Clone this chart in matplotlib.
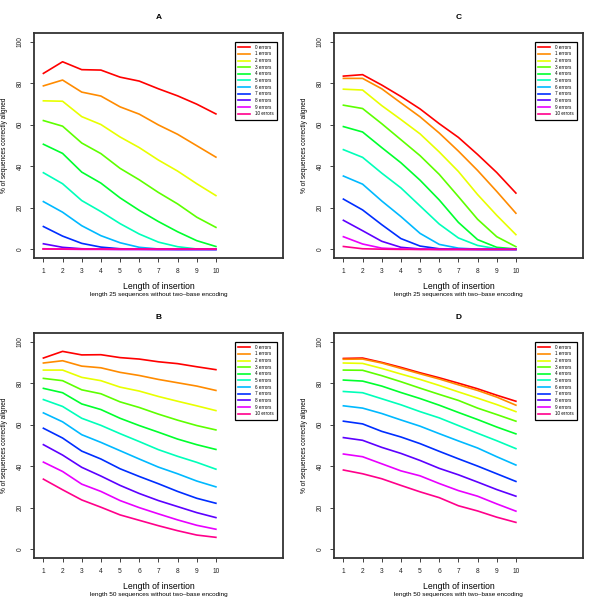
import colorsys
import matplotlib
matplotlib.use("Agg")
import matplotlib.pyplot as plt

plt.rcParams['font.family'] = ['Liberation Sans', 'DejaVu Sans']

insert_len = [1, 2, 3, 4, 5, 6, 7, 8, 9, 10]
error_labels = ['%d errors' % i for i in range(11)]

# panel A: length 25, no two-base encoding
a_vals = [
    [84.7, 90.3, 86.5, 86.3, 82.9, 81.0, 77.3, 73.9, 69.9, 65.2],
    [78.7, 81.5, 75.7, 73.8, 68.6, 65.1, 59.9, 55.4, 49.9, 44.4],
    [71.5, 71.3, 63.9, 60.1, 54.1, 49.0, 43.0, 37.7, 31.6, 25.9],
    [62.0, 59.3, 51.2, 46.1, 39.0, 33.5, 27.4, 21.9, 15.5, 10.6],
    [50.6, 46.2, 37.2, 31.9, 24.8, 18.8, 13.4, 8.5, 4.2, 1.4],
    [36.9, 31.6, 23.5, 18.2, 12.4, 7.4, 3.5, 1.3, 0.2, 0.0],
    [23.0, 17.9, 11.4, 6.6, 3.2, 1.0, 0.2, 0.0, 0.0, 0.0],
    [11.0, 6.4, 2.9, 1.1, 0.3, 0.1, 0.0, 0.0, 0.0, 0.0],
    [2.7, 1.0, 0.3, 0.1, 0.0, 0.0, 0.0, 0.0, 0.0, 0.0],
    [0.3, 0.1, 0.0, 0.0, 0.0, 0.0, 0.0, 0.0, 0.0, 0.0],
    [0.0, 0.0, 0.0, 0.0, 0.0, 0.0, 0.0, 0.0, 0.0, 0.0],
]

# panel B: length 50, no two-base encoding
b_vals = [
    [92.1, 95.3, 93.6, 93.7, 92.3, 91.6, 90.3, 89.4, 87.9, 86.5],
    [89.7, 90.8, 88.2, 87.4, 85.2, 83.7, 81.8, 80.2, 78.6, 76.5],
    [86.3, 86.3, 82.8, 81.2, 78.1, 76.2, 73.6, 71.3, 69.1, 66.8],
    [82.3, 81.2, 76.8, 74.9, 71.0, 68.3, 65.1, 62.2, 59.6, 57.5],
    [77.5, 75.4, 70.0, 67.3, 63.1, 59.6, 56.4, 53.1, 50.4, 48.1],
    [72.1, 68.8, 63.1, 59.7, 55.7, 51.9, 48.0, 44.8, 41.9, 38.6],
    [65.7, 61.4, 55.2, 51.5, 47.5, 43.5, 39.6, 36.4, 32.9, 30.1],
    [58.3, 53.6, 47.3, 43.5, 38.8, 35.1, 31.6, 27.9, 24.6, 22.2],
    [50.4, 45.4, 39.5, 35.3, 30.8, 26.9, 23.5, 20.6, 17.7, 15.3],
    [42.0, 37.5, 31.4, 27.9, 23.5, 20.1, 17.1, 14.2, 11.6, 9.7],
    [33.8, 28.7, 23.8, 20.3, 16.6, 14.0, 11.4, 9.0, 6.9, 5.8],
]

# panel C: length 25, with two-base encoding
c_vals = [
    [83.4, 84.1, 79.1, 73.6, 67.6, 60.5, 53.9, 45.7, 37.0, 27.1],
    [82.3, 82.3, 77.3, 70.5, 63.8, 56.0, 47.3, 38.0, 27.9, 17.4],
    [77.1, 76.7, 69.2, 62.5, 55.6, 46.9, 37.5, 26.4, 16.4, 7.1],
    [69.4, 67.8, 60.5, 52.8, 45.1, 36.1, 25.4, 14.5, 6.1, 1.3],
    [59.1, 56.5, 49.0, 41.7, 33.3, 23.8, 13.0, 4.7, 1.0, 0.2],
    [48.0, 44.3, 36.7, 29.6, 20.9, 12.2, 5.5, 1.9, 0.3, 0.0],
    [35.3, 31.4, 23.3, 15.8, 7.7, 2.4, 0.6, 0.1, 0.0, 0.0],
    [24.2, 19.0, 11.9, 5.2, 1.6, 0.3, 0.1, 0.0, 0.0, 0.0],
    [14.0, 9.0, 3.9, 1.0, 0.2, 0.0, 0.0, 0.0, 0.0, 0.0],
    [6.1, 2.6, 0.6, 0.2, 0.0, 0.0, 0.0, 0.0, 0.0, 0.0],
    [1.4, 0.3, 0.1, 0.0, 0.0, 0.0, 0.0, 0.0, 0.0, 0.0],
]

# panel D: length 50, with two-base encoding
d_vals = [
    [91.9, 92.1, 90.0, 87.6, 85.0, 82.6, 80.0, 77.3, 74.2, 71.3],
    [91.5, 91.6, 89.7, 87.1, 84.5, 82.0, 79.2, 76.5, 73.3, 69.4],
    [89.7, 89.5, 87.1, 84.4, 81.8, 78.9, 75.8, 72.8, 69.7, 66.3],
    [86.3, 86.2, 83.6, 80.7, 77.6, 74.6, 71.7, 68.0, 64.9, 61.7],
    [81.5, 81.0, 78.6, 75.5, 72.6, 69.4, 65.9, 62.5, 58.9, 55.6],
    [76.0, 75.4, 72.5, 69.6, 66.3, 63.3, 59.6, 55.9, 52.3, 48.5],
    [69.1, 68.0, 65.4, 62.3, 59.3, 55.7, 52.2, 48.8, 44.6, 40.6],
    [61.7, 60.4, 56.8, 54.1, 50.9, 47.2, 43.6, 40.1, 36.4, 32.7],
    [53.8, 52.5, 49.1, 46.2, 42.8, 39.0, 35.9, 32.4, 28.8, 25.6],
    [45.9, 44.6, 41.2, 37.8, 35.4, 31.7, 28.3, 25.6, 21.9, 18.4],
    [38.2, 36.4, 34.0, 30.8, 27.7, 24.9, 21.0, 18.5, 15.5, 13.0],
]

# rainbow(11) like R
colors = [colorsys.hsv_to_rgb(i / 11.0, 1, 1) for i in range(11)]


def draw_panel(fig, rect, vals, letter, subtitle):
    ax = fig.add_axes(rect)
    for i, ys in enumerate(vals):
        ax.plot(insert_len, ys, color=colors[i], lw=1.2, label=error_labels[i])
    ax.set_xlim(0.52, 13.48)
    ax.set_ylim(-4, 104)
    ax.set_xticks(insert_len)
    ax.set_yticks([0, 20, 40, 60, 80, 100])
    ax.tick_params(labelsize=4.8, length=3, width=0.6, pad=4.5, colors='#222222')
    for lab in ax.get_yticklabels():
        lab.set_rotation(90)
        lab.set_va('center')
    for sp in ax.spines.values():
        sp.set_linewidth(1.3)
        sp.set_color('#333333')
    ax.set_ylabel('% of sequences correctly aligned', fontsize=4.7, labelpad=6)
    ax.set_title(letter, fontsize=6, fontweight='bold', pad=10)
    ax.annotate('Length of insertion', xy=(0.5, 0), xycoords='axes fraction',
                xytext=(0, -21), textcoords='offset points',
                ha='center', va='center', fontsize=6.2)
    ax.annotate(subtitle, xy=(0.5, 0), xycoords='axes fraction',
                xytext=(0, -26.5), textcoords='offset points',
                ha='center', va='center', fontsize=4.6)
    leg = ax.legend(loc='upper left', bbox_to_anchor=(11, 100),
                    bbox_transform=ax.transData, fontsize=3.3,
                    labelspacing=0.36, handlelength=2.6, handletextpad=1.0,
                    borderpad=0.7, fancybox=False, framealpha=1,
                    edgecolor='black', borderaxespad=0)
    leg.get_frame().set_linewidth(0.9)
    return ax


fig = plt.figure(figsize=(6, 6), dpi=100)
w, h = 0.414, 0.374
draw_panel(fig, [0.057, 0.5705, w, h], a_vals, 'A',
           'length 25 sequences without two\u2013base encoding')
draw_panel(fig, [0.557, 0.5705, w, h], c_vals, 'C',
           'length 25 sequences with two\u2013base encoding')
draw_panel(fig, [0.057, 0.0705, w, h], b_vals, 'B',
           'length 50 sequences without two\u2013base encoding')
draw_panel(fig, [0.557, 0.0705, w, h], d_vals, 'D',
           'length 50 sequences with two\u2013base encoding')

fig.savefig('out.png', dpi=100)
